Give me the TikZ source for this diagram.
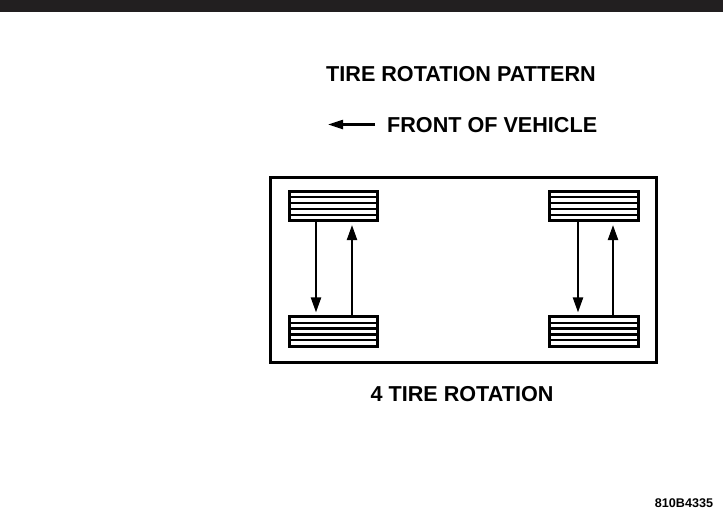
\documentclass[tikz,border=0pt]{standalone}
\usepackage{fontspec}
\setmainfont{Liberation Sans}
\usetikzlibrary{arrows.meta}
\definecolor{barc}{HTML}{221F20}
\begin{document}
\begin{tikzpicture}[x=1pt,y=-1pt,
  lbl/.style={inner sep=0pt, font=\bfseries\fontsize{21.6}{24}\selectfont},
  tirebox/.style={draw, line width=2.6pt, minimum width=88.5pt, minimum height=29.5pt, inner sep=0pt,
    path picture={\foreach \k in {1,...,4}{\draw[line width=2.2pt]
      ([yshift=-\k*5.9pt]path picture bounding box.north west) --
      ([yshift=-\k*5.9pt]path picture bounding box.north east);}}},
  conn/.style={line width=2.2pt, -{Triangle[length=15pt,width=10pt]}, shorten >=3pt}]
\useasboundingbox (0,0) rectangle (723,515);
\fill[barc] (0,0) rectangle (723,12);
% texts
\node[lbl] (title) at (461,74.5) {TIRE ROTATION PATTERN};
\node[lbl, anchor=west] (front) at (387,125.5) {FRONT OF VEHICLE};
\coordinate (fa) at (328,124.5);
\draw[line width=2.2pt, -{Triangle[length=15pt,width=9pt]}] ([xshift=-12pt,yshift=1pt]front.west) -- (fa);
% frame
\node[draw, line width=2.6pt, minimum width=386pt, minimum height=185pt, inner sep=0pt] (frame) at (463.5,270) {};
% tires
\node[tirebox] (tl) at (333.5,206) {};
\node[tirebox] (bl) at (333.5,331.5) {};
\node[tirebox] (tr) at (594,206) {};
\node[tirebox] (br) at (594,331.5) {};
% arrows
\draw[conn] ([xshift=-17.5pt]tl.south) -- ([xshift=-17.5pt]bl.north);
\draw[conn] ([xshift=18.5pt]bl.north) -- ([xshift=18.5pt]tl.south);
\draw[conn] ([xshift=-16pt]tr.south) -- ([xshift=-16pt]br.north);
\draw[conn] ([xshift=19pt]br.north) -- ([xshift=19pt]tr.south);
\node[lbl] (caption) at (462,394) {4 TIRE ROTATION};
\node[inner sep=0pt, font=\bfseries\fontsize{12.6}{14}\selectfont] (code) at (684,503.5) {810B4335};
\end{tikzpicture}
\end{document}
